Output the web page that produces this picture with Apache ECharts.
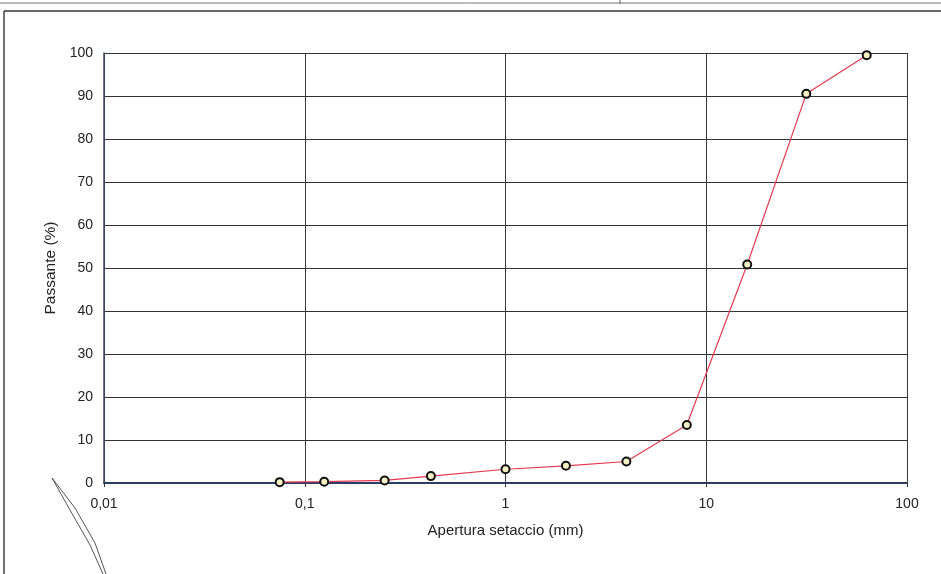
<!DOCTYPE html>
<html>
<head>
<meta charset="utf-8">
<script src="https://cdn.jsdelivr.net/npm/echarts@6/dist/echarts.min.js"></script>
<style>
html,body{margin:0;padding:0;background:#fff;}
#chart{width:941px;height:574px;}
</style>
</head>
<body>
<div id="chart"></div>
<script>
// Sieve opening (mm) and passing (%)
var sieveSizes = [0.075, 0.125, 0.25, 0.425, 1, 2, 4, 8, 16, 31.5, 63];
var passing = [0.2, 0.3, 0.6, 1.6, 3.2, 4.0, 5.0, 13.5, 50.8, 90.5, 99.5];
var xTickValues = [0.01, 0.1, 1, 10, 100];
var yTickValues = [0, 10, 20, 30, 40, 50, 60, 70, 80, 90, 100];
var xAxisTitle = 'Apertura setaccio (mm)';
var yAxisTitle = 'Passante (%)';

var seriesData = sieveSizes.map(function (s, i) { return [s, passing[i]]; });

var chart = echarts.init(document.getElementById('chart'), null, {renderer: 'canvas'});
var font = 'Liberation Sans, Arial, sans-serif';
chart.setOption({
  backgroundColor: '#ffffff',
  animation: false,
  grid: {left: 104, right: 34, top: 53, bottom: 91, containLabel: false},
  xAxis: {
    type: 'log',
    logBase: 10,
    min: xTickValues[0],
    max: xTickValues[xTickValues.length - 1],
    name: xAxisTitle,
    nameLocation: 'middle',
    nameGap: 40,
    nameTextStyle: {fontFamily: font, fontSize: 15, color: '#222'},
    axisLine: {show: true, lineStyle: {color: '#2b3d66', width: 2}},
    axisTick: {show: true, length: 4, lineStyle: {color: '#333'}},
    minorTick: {show: false},
    splitLine: {show: true, lineStyle: {color: '#3a3a3a', width: 1}},
    axisLabel: {
      fontFamily: font, fontSize: 14, color: '#222', margin: 14,
      formatter: function (v) { return String(Number(v.toPrecision(6))).replace('.', ','); }
    }
  },
  yAxis: {
    type: 'value',
    min: 0,
    max: 100,
    interval: 10,
    name: yAxisTitle,
    nameLocation: 'middle',
    nameGap: 45,
    nameTextStyle: {fontFamily: font, fontSize: 15.5, color: '#222'},
    axisLine: {show: true, lineStyle: {color: '#3b4a6b', width: 1.5}},
    axisTick: {show: false},
    splitLine: {show: true, lineStyle: {color: '#333', width: 1.2}},
    axisLabel: {fontFamily: font, fontSize: 14, color: '#222', margin: 11}
  },
  graphic: [
    {type: 'line', shape: {x1: 0, y1: 3, x2: 941, y2: 3}, style: {stroke: '#777', lineWidth: 1}},
    {type: 'line', shape: {x1: 620, y1: 0, x2: 620, y2: 4}, style: {stroke: '#666', lineWidth: 1}},
    {type: 'line', shape: {x1: 4, y1: 11, x2: 941, y2: 11}, style: {stroke: '#333', lineWidth: 1.5}},
    {type: 'line', shape: {x1: 4, y1: 11, x2: 4, y2: 574}, style: {stroke: '#444', lineWidth: 1.5}},
    {type: 'polyline', shape: {points: [[52, 478], [70, 510], [90, 545], [103, 574]]}, style: {stroke: '#555', lineWidth: 1, fill: null}},
    {type: 'polyline', shape: {points: [[52, 478], [75, 508], [95, 543], [106, 574]]}, style: {stroke: '#555', lineWidth: 1, fill: null}}
  ],
  series: [{
    type: 'line',
    data: seriesData,
    symbol: 'circle',
    symbolSize: 8,
    showSymbol: true,
    lineStyle: {color: '#e23a4e', width: 1.2},
    itemStyle: {color: '#f4f1c4', borderColor: '#111', borderWidth: 2},
    z: 5
  }]
});
</script>
</body>
</html>
